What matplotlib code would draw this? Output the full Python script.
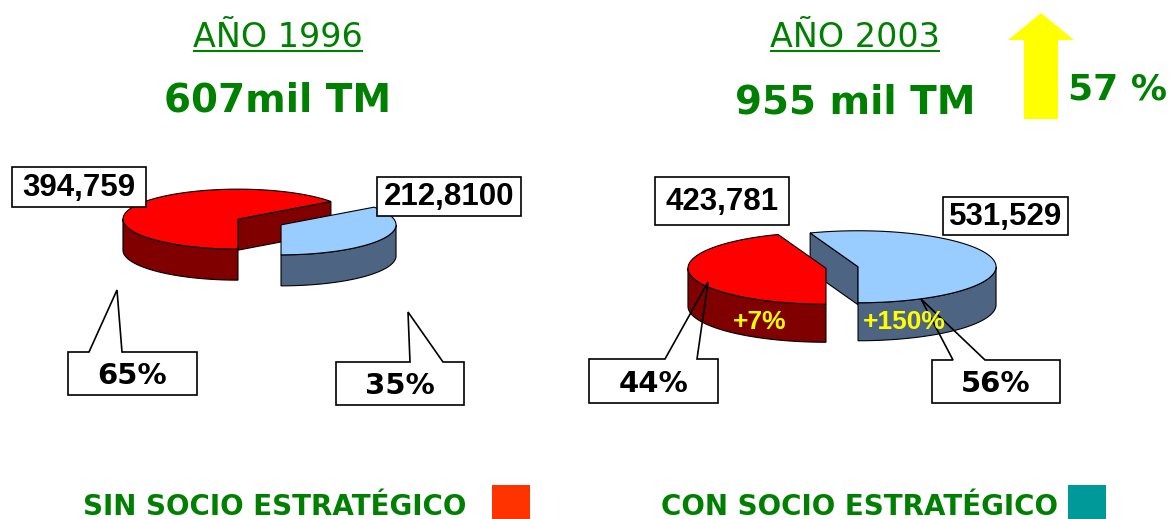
import numpy as np
import matplotlib
matplotlib.use('Agg')
import matplotlib.pyplot as plt
from matplotlib.patches import Polygon, Rectangle, FancyArrow

# data
years = ['AÑO 1996', 'AÑO 2003']
totals = ['607mil TM', '955 mil TM']
vals_1996 = [394759, 212810]
vals_2003 = [423781, 531529]
value_labels_1996 = ['394,759', '212,8100']
value_labels_2003 = ['423,781', '531,529']
pct_1996 = ['65%', '35%']
pct_2003 = ['44%', '56%']
growth_2003 = ['+7%', '+150%']
growth_total = '57 %'
legend_labels = ['SIN SOCIO ESTRATÉGICO', 'CON SOCIO ESTRATÉGICO']

GREEN = '#008000'
TOP = ['#ff0000', '#99ccff']
SIDE = ['#800000', '#4d6482']
LEG = ['#ff3300', '#009999']

W, H = 1174, 519
fig = plt.figure(figsize=(W / 100, H / 100), dpi=100)
ax = fig.add_axes([0, 0, 1, 1])
ax.set_xlim(0, W)
ax.set_ylim(H, 0)
ax.axis('off')


def rim(cx, cy, rx, ry, t):
    t = np.radians(t)
    return cx + rx * np.cos(t), cy - ry * np.sin(t)


def draw_slice(cx, cy, rx, ry, depth, t0, t1, top, side):
    lw = 0.8
    c0, c1 = np.cos(np.radians(t0)), np.cos(np.radians(t1))
    # radial cut faces
    for t, show in ((t0, c0 < -1e-6), (t1, c1 > 1e-6)):
        if show:
            px, py = rim(cx, cy, rx, ry, t)
            ax.add_patch(Polygon([(cx, cy), (px, py), (px, py + depth), (cx, cy + depth)],
                                 closed=True, fc=side, ec='black', lw=lw, zorder=1))
    # outer wall (front half only)
    ts = np.linspace(t0, t1, 600)
    extra = [a for a in (-180, 0, 180, 360) if t1 < a < t0]
    ts = np.sort(np.concatenate([ts, extra]))[::-1]
    front = np.sin(np.radians(ts)) <= 1e-9
    runs, cur = [], []
    for t, f in zip(ts, front):
        if f:
            cur.append(t)
        elif cur:
            runs.append(cur)
            cur = []
    if cur:
        runs.append(cur)
    for r in runs:
        if len(r) < 2:
            continue
        xs, ys = rim(cx, cy, rx, ry, np.array(r))
        pts = list(zip(xs, ys)) + list(zip(xs[::-1], ys[::-1] + depth))
        ax.add_patch(Polygon(pts, closed=True, fc=side, ec='black', lw=lw, zorder=1))
    # top
    xs, ys = rim(cx, cy, rx, ry, np.linspace(t0, t1, 300))
    pts = [(cx, cy)] + list(zip(xs, ys))
    ax.add_patch(Polygon(pts, closed=True, fc=top, ec='black', lw=lw, zorder=1))


def pie3d(values, cx, cy, rx, ry, depth, explode, start=270):
    fr = np.array(values, dtype=float) / sum(values)
    ang = fr * 360
    bounds = start - np.concatenate([[0], np.cumsum(ang)])
    slices = []
    for i in range(len(values)):
        t0, t1 = bounds[i], bounds[i + 1]
        mid = np.radians((t0 + t1) / 2)
        ox, oy = explode * rx * np.cos(mid), -explode * ry * np.sin(mid)
        slices.append((np.sin(mid), i, cx + ox, cy + oy, t0, t1))
    # back slices first
    for _, i, sx, sy, t0, t1 in sorted(slices, key=lambda s: -s[0]):
        draw_slice(sx, sy, rx, ry, depth, t0, t1, TOP[i], SIDE[i])


def value_box(label, x0, y0, x1, y1):
    ax.add_patch(Rectangle((x0, y0), x1 - x0, y1 - y0, fc='white', ec='black', lw=1.2, zorder=4))
    ax.text((x0 + x1) / 2, (y0 + y1) / 2 + 1, label, ha='center', va='center',
            fontsize=22.5, fontweight='bold', family='Liberation Sans', zorder=5)


def callout(label, x0, y0, x1, y1, bx0, bx1, tx, ty):
    pts = [(x0, y0), (bx0, y0), (tx, ty), (bx1, y0), (x1, y0), (x1, y1), (x0, y1)]
    ax.add_patch(Polygon(pts, closed=True, fill=False, ec='black', lw=1.2, zorder=3))
    ax.text((x0 + x1) / 2, (y0 + y1) / 2 + 3, label, ha='center', va='center',
            fontsize=21, fontweight='bold', family='DejaVu Sans', zorder=5)


# pies
pie3d(vals_1996, 259.5, 222, 115, 30, 31, 0.21)
pie3d(vals_2003, 842, 267.5, 138, 36, 38, 0.118)

# labels 1996
value_box(value_labels_1996[0], 12, 167, 146, 207)
value_box(value_labels_1996[1], 377, 177, 521, 216)
callout(pct_1996[0], 68, 352, 197, 395, 89, 122, 117, 290)
callout(pct_1996[1], 336, 362, 464, 405, 410, 443, 408, 312)

# labels 2003
value_box(value_labels_2003[0], 655, 177, 789, 225)
value_box(value_labels_2003[1], 943, 197, 1068, 235)
callout(pct_2003[0], 589, 359, 718, 403, 665, 697, 708, 282)
callout(pct_2003[1], 932, 360, 1060, 403, 953, 985, 921, 299)
for lab, x in zip(growth_2003, (760, 904)):
    ax.text(x, 322, lab, ha='center', va='center', fontsize=19, fontweight='bold',
            family='Liberation Sans', color='#ffff00', zorder=6)

# titles
titles = []
for lab, tot, x, yb in zip(years, totals, (278, 855), (112, 113)):
    t = ax.text(x, 47, lab, ha='center', va='baseline', fontsize=24, color=GREEN,
                family='DejaVu Sans')
    titles.append(t)
    ax.text(x, yb, tot, ha='center', va='baseline', fontsize=28, fontweight='bold',
            color=GREEN, family='DejaVu Sans')

fig.canvas.draw()
r = fig.canvas.get_renderer()
inv = ax.transData.inverted()
for t in titles:
    bb = t.get_window_extent(r)
    (xa, _), (xb, _) = inv.transform([(bb.x0, bb.y0), (bb.x1, bb.y0)])
    ax.plot([xa, xb], [51, 51], color=GREEN, lw=1.5, solid_capstyle='butt')

# growth arrow
ax.add_patch(FancyArrow(1041, 119, 0, -106, width=34, head_width=66, head_length=27,
                        length_includes_head=True, fc='#ffff00', ec='none'))
ax.text(1068, 99, growth_total, ha='left', va='baseline', fontsize=26, fontweight='bold',
        color=GREEN, family='DejaVu Sans')

# legend
for lab, x, sx, c in zip(legend_labels, (83, 661), (492, 1068), LEG):
    ax.text(x, 515, lab, ha='left', va='baseline', fontsize=20, fontweight='bold',
            color=GREEN, family='DejaVu Sans')
    ax.add_patch(Rectangle((sx, 485), 38, 40, fc=c, ec='none'))

fig.savefig('out.png', dpi=100)
